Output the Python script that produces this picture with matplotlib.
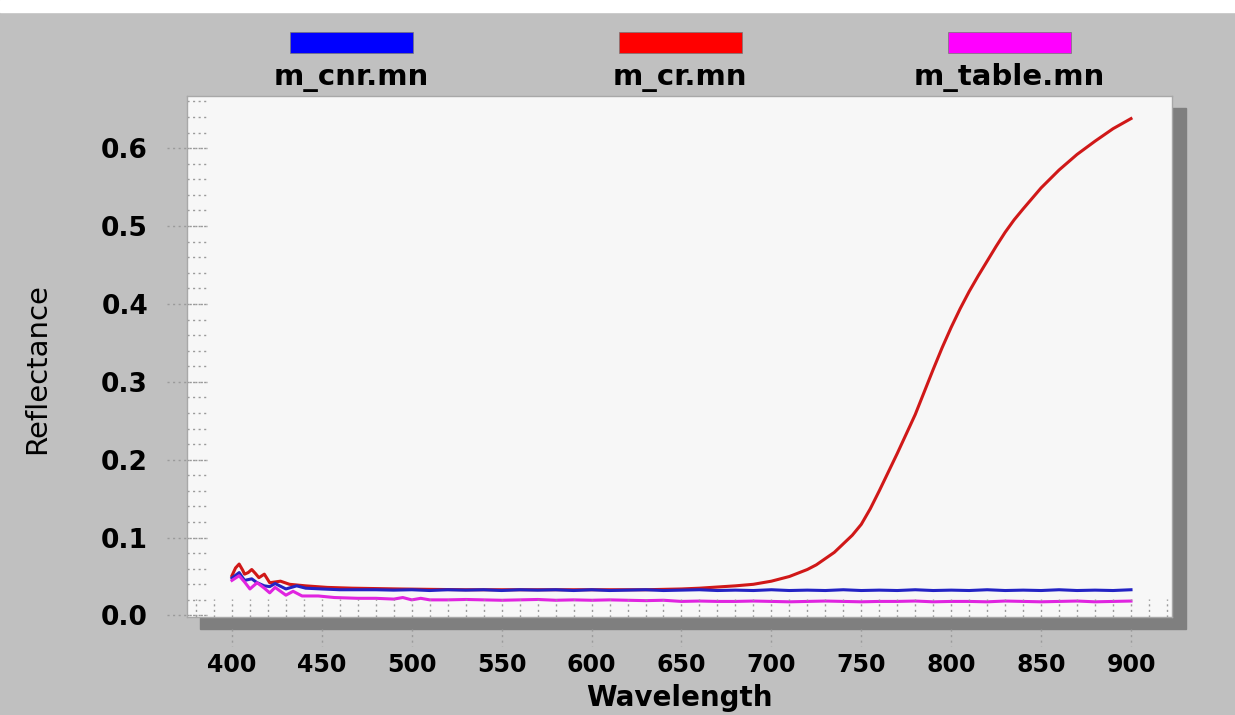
import numpy as np
from matplotlib import pyplot as plt
from matplotlib.patches import Rectangle

# series
series_names = ['m_cnr.mn', 'm_cr.mn', 'm_table.mn']

wl_cnr = [400, 404, 407, 411, 414, 418, 421, 424, 430, 436, 441, 450, 460, 470, 480, 490,
          500, 510, 520, 530, 540, 550, 560, 570, 580, 590, 600, 610, 620, 630, 640, 650,
          660, 670, 680, 690, 700, 710, 720, 730, 740, 750, 760, 770, 780, 790, 800, 810,
          820, 830, 840, 850, 860, 870, 880, 890, 900]
refl_cnr = [0.048, 0.055, 0.045, 0.047, 0.042, 0.038, 0.037, 0.041, 0.034, 0.038, 0.035, 0.034,
            0.033, 0.033, 0.033, 0.0325,
            0.033, 0.032, 0.033, 0.0325, 0.033, 0.032, 0.033, 0.0325, 0.033, 0.032, 0.033,
            0.032, 0.0325, 0.033, 0.032, 0.0325, 0.033, 0.032, 0.0325, 0.032, 0.033, 0.032,
            0.0325, 0.032, 0.033, 0.032, 0.0325, 0.032, 0.033, 0.032, 0.0325, 0.032, 0.033,
            0.032, 0.0325, 0.032, 0.033, 0.032, 0.0325, 0.032, 0.033]

wl_cr = [400, 402, 404, 406, 407, 409, 411, 413, 415, 418, 421, 424, 427, 432, 441, 453,
         467, 480, 493, 510, 530, 550, 570, 590, 610, 630, 650, 660, 670, 680, 690, 700,
         710, 720, 725, 730, 735, 740, 745, 750, 755, 760, 765, 770, 775, 780, 785, 790,
         795, 800, 805, 810, 815, 820, 825, 830, 835, 840, 850, 860, 870, 880, 890, 900]
refl_cr = [0.051, 0.061, 0.066, 0.058, 0.053, 0.055, 0.059, 0.054, 0.0485, 0.053, 0.042,
           0.043, 0.044, 0.040, 0.038, 0.036, 0.035, 0.0345, 0.034, 0.0335, 0.033, 0.033,
           0.033, 0.033, 0.033, 0.033, 0.034, 0.035, 0.0365, 0.038, 0.040, 0.044,
           0.050, 0.059, 0.065, 0.073, 0.081, 0.092, 0.103, 0.117, 0.137, 0.160, 0.184,
           0.208, 0.233, 0.258, 0.287, 0.316, 0.344, 0.370, 0.394, 0.416, 0.436, 0.455,
           0.474, 0.492, 0.508, 0.522, 0.549, 0.572, 0.592, 0.609, 0.625, 0.638]

wl_table = [400, 404, 407, 410, 414, 418, 421, 424, 430, 434, 439, 448, 457, 470, 480, 490,
            495, 500, 505, 510, 520, 530, 540, 550, 560, 570, 580, 590, 600, 610, 620, 630,
            640, 650, 660, 670, 680, 690, 700, 710, 720, 730, 740, 750, 760, 770, 780, 790,
            800, 810, 820, 830, 840, 850, 860, 870, 880, 890, 900]
refl_table = [0.045, 0.051, 0.043, 0.034, 0.042, 0.035, 0.029, 0.036, 0.026, 0.031, 0.025,
              0.025, 0.023, 0.022, 0.022, 0.021, 0.023, 0.020, 0.022, 0.020,
              0.020, 0.0205, 0.020, 0.0195, 0.020, 0.0205, 0.0195, 0.020, 0.0195, 0.020,
              0.0195, 0.019, 0.0195,
              0.018, 0.0185, 0.018, 0.018, 0.0185, 0.018, 0.0175, 0.018, 0.0185, 0.018,
              0.0175, 0.018, 0.018, 0.0185, 0.0175, 0.018, 0.018, 0.0175, 0.0185, 0.018,
              0.0175, 0.018, 0.0185, 0.0175, 0.018, 0.0185]

x_ticks = [400, 450, 500, 550, 600, 650, 700, 750, 800, 850, 900]
y_ticks = [0.0, 0.1, 0.2, 0.3, 0.4, 0.5, 0.6]

line_colors = ['#2323c4', '#d01818', '#e024e0']
patch_colors = ['#0000ff', '#ff0000', '#ff00ff']

W, H = 1235, 715
fig = plt.figure(figsize=(W / 100, H / 100), dpi=100, facecolor='#c0c0c0')

# white strip on top and drop shadow behind the plot box
fig.patches.append(Rectangle((0, 1 - 12 / H), 1, 12 / H, transform=fig.transFigure,
                             color='white', zorder=0))
fig.patches.append(Rectangle((200 / W, 1 - 629 / H), (1186 - 200) / W, (629 - 108) / H,
                             transform=fig.transFigure, color='#7f7f7f', zorder=0))

ax = fig.add_axes([187 / W, 1 - 617 / H, (1172 - 187) / W, (617 - 96) / H])
ax.set_zorder(2)
ax.set_facecolor('#f7f7f7')
for s in ax.spines.values():
    s.set_color('#a8a8a8')
    s.set_linewidth(1)

ax.plot(wl_cr, refl_cr, color=line_colors[1], lw=2.2)
ax.plot(wl_cnr, refl_cnr, color=line_colors[0], lw=2.2)
ax.plot(wl_table, refl_table, color=line_colors[2], lw=2.2)

ax.set_xlim(375, 922.8)
ax.set_ylim(-0.002, 0.667)
ax.set_xticks(x_ticks)
ax.set_yticks(y_ticks)
ax.set_yticklabels(['%.1f' % v for v in y_ticks])
ax.tick_params(length=0)
ax.tick_params(axis='x', pad=26, labelsize=17)
ax.tick_params(axis='y', pad=28, labelsize=19)
for lab in ax.get_xticklabels() + ax.get_yticklabels():
    lab.set_fontweight('bold')
    lab.set_family('DejaVu Sans')

# dotted tick stubs, like the original software draws them
dot = (0, (1.5, 2.5))
gc = '#9a9a9a'
xt = ax.get_xaxis_transform()
yt = ax.get_yaxis_transform()
minor_x = np.arange(380, 921, 10)
minor_y = np.arange(0.0, 0.661, 0.02)
ax.vlines(minor_x, 0, 0.035, transform=xt, colors=gc, linestyles=dot, lw=1)
ax.vlines(x_ticks, -0.023, -0.055, transform=xt, colors=gc, linestyles=dot, lw=1,
          clip_on=False)
ax.hlines(minor_y, 0, 0.02, transform=yt, colors=gc, linestyles=dot, lw=1)
ax.hlines(y_ticks, -0.02, 0.02, transform=yt, colors=gc, linestyles=dot, lw=1,
          clip_on=False)

fig.text(37 / W, 1 - 369 / H, 'Reflectance', rotation=90, ha='center', va='center',
         fontsize=21, family='DejaVu Sans')
fig.text(679 / W, 1 - 698 / H, 'Wavelength', ha='center', va='center',
         fontsize=20, fontweight='bold', family='DejaVu Sans')

# legend across the top: colour bar above name
leg_x = [351, 680, 1009]
for name, c, cx in zip(series_names, patch_colors, leg_x):
    fig.patches.append(Rectangle(((cx - 61) / W, 1 - 53 / H), 123 / W, 21 / H,
                                 transform=fig.transFigure, facecolor=c,
                                 edgecolor='#777777', lw=0.5, zorder=2))
    fig.text(cx / W, 1 - 78 / H, name, ha='center', va='center', fontsize=21,
             fontweight='bold', family='DejaVu Sans')

fig.savefig('out.png', dpi=100, facecolor=fig.get_facecolor())
